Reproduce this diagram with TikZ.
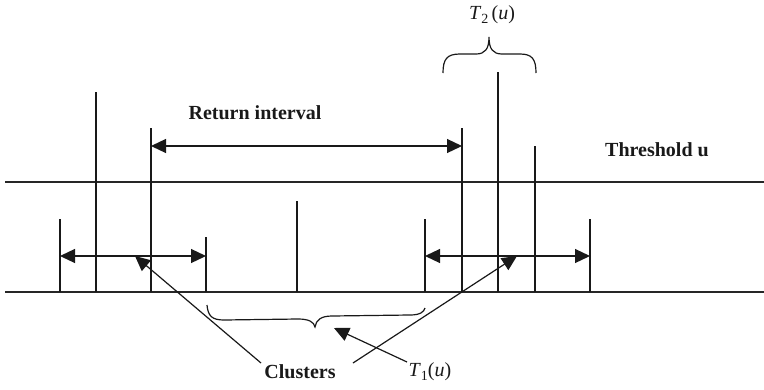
\documentclass[tikz,border=0pt]{standalone}
\usepackage{fontspec}
\setmainfont{Liberation Serif}
\usetikzlibrary{arrows.meta}
\begin{document}
\begin{tikzpicture}[x=1pt,y=-1pt,
  axis/.style={line width=1.6pt,draw=black!85},
  spike/.style={line width=1.2pt,draw=black!90},
  dimarrow/.style={line width=1.2pt,draw=black!90,{Triangle[length=15pt,width=14pt]}-{Triangle[length=15pt,width=14pt]}},
  pointer/.style={line width=1.2pt,draw=black!90,-{Triangle[length=15pt,width=14pt]}},
  bracepath/.style={line width=1.2pt,draw=black!90},
  lbl/.style={font=\fontsize{20}{24}\selectfont\bfseries,inner sep=0pt,text=black!90},
  mlbl/.style={font=\fontsize{20}{24}\selectfont,inner sep=0pt,text=black!90}]
\useasboundingbox (0,0) rectangle (764,389);
% base and threshold lines
\coordinate (bL) at (5,292); \coordinate (bR) at (764,292);
\coordinate (tL) at (5,182); \coordinate (tR) at (764,182);
\draw[axis] (bL) -- (bR);
\draw[axis] (tL) -- (tR);
% spikes
\foreach \n/\x/\y in {a/60/219, b/96/92, c/151/128, d/206/237, e/297/201, f/425/219, g/462/128, h/498/72, i/535/146, j/590/219}{
  \coordinate (\n0) at (\x,292);
  \coordinate (\n1) at (\x,\y);
  \draw[spike] (\n0) -- (\n1);
}
% arrow endpoints
\coordinate (ra) at (151,146); \coordinate (rb) at (462,146);
\coordinate (c1a) at (60,256); \coordinate (c1b) at (206,256);
\coordinate (c2a) at (425,256); \coordinate (c2b) at (590,256);
\draw[dimarrow] (ra) -- (rb);
\draw[dimarrow] (c1a) -- (c1b);
\draw[dimarrow] (c2a) -- (c2b);
% labels
\node[lbl] (ret) at (255,113) {Return interval};
\node[lbl] (thr) at (657,150) {Threshold u};
\node[lbl] (clu) at (300,372) {Clusters};
\node[mlbl] (t1) at (430,372) {\textit{T}\raisebox{-0.35ex}{\fontsize{14}{14}\selectfont 1}(\textit{u})};
\node[mlbl] (t2) at (492,15) {\textit{T}\raisebox{-0.35ex}{\fontsize{14}{14}\selectfont 2}\,(\textit{u})};
% pointer lines
\coordinate (p1s) at (261,363); \coordinate (p1e) at (135,256);
\coordinate (p2s) at (353,363); \coordinate (p2e) at (517,256);
\coordinate (p3s) at (407,362); \coordinate (p3e) at (334,328);
\draw[pointer] (p1s) -- (p1e);
\draw[pointer] (p2s) -- (p2e);
\draw[pointer] (p3s) -- (p3e);
% top brace
\draw[bracepath] (443,73) .. controls (443,59) and (447,54) .. (460,54) -- (476,54)
  .. controls (485,54) and (489,49) .. (489,37)
  .. controls (489,49) and (493,54) .. (502,54) -- (520,54)
  .. controls (532,54) and (536,59) .. (536,73);
% bottom brace
\draw[bracepath] (207,305) .. controls (208,316) and (212,320) .. (224,320) -- (298,319)
  .. controls (309,319) and (314,322) .. (315,327)
  .. controls (316,320) and (321,316) .. (332,316) -- (410,315)
  .. controls (420,315) and (424,312) .. (425,308);
\end{tikzpicture}
\end{document}
